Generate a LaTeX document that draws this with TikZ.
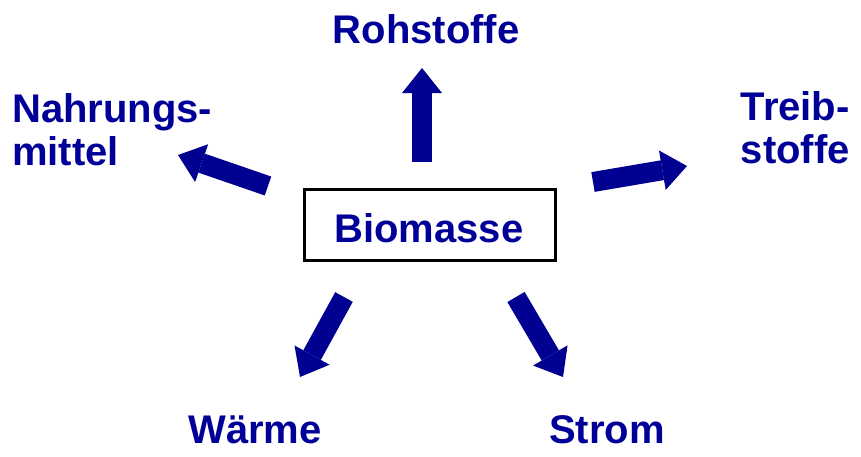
\documentclass[tikz,border=0pt]{standalone}
\usepackage{fontspec}
\setmainfont{Liberation Sans}
\usetikzlibrary{arrows.meta, positioning}
\usepackage{xcolor}
\definecolor{biomblue}{RGB}{0,0,153}
\definecolor{arrowblue}{RGB}{0,0,145}
\tikzset{
  lbl/.style     = {text=biomblue, font=\fontsize{30}{32.25}\selectfont\bfseries,
                    inner sep=0pt},
  mainbox/.style = {draw=black, line width=2.4pt, minimum width=188pt,
                    minimum height=53pt, inner sep=0pt},
  blockarr/.style = {-{Triangle[length=18.75pt, width=30pt, line width=0pt]},
                     line width=15pt, draw=arrowblue},
}

\begin{document}
\begin{tikzpicture}[x=0.75pt, y=-0.75pt]
  \useasboundingbox (0,0) rectangle (861,457);
  % box in the middle
  \node[mainbox] (biomasse) at (430,225) {};
  \node[lbl, anchor=base] (biotext) at (429,242) {Biomasse};
  % labels round it (base = last line)
  \node[lbl, anchor=base] (rohstoffe) at (426,43) {Rohstoffe};
  \node[lbl, anchor=base west, align=left] (nahrung) at (12,165) {Nahrungs-\\mittel};
  \node[lbl, anchor=base east, align=right] (treib) at (850,163) {Treib-\\stoffe};
  \node[lbl, anchor=base] (waerme) at (255,443) {Wärme};
  \node[lbl, anchor=base] (strom) at (607,443) {Strom};
  % arrow ends
  \foreach \nd/\x/\y in {tR/422/162, hR/422/68, tN/268/186, hN/178/155,
                         tT/593/182, hT/687/166, tW/344/297, hW/300/377,
                         tS/516/297, hS/563/377} {
    \coordinate (\nd) at (\x,\y);
  }
  \foreach \a/\b in {tR/hR, tN/hN, tT/hT, tW/hW, tS/hS} {
    \draw[blockarr] (\a) -- (\b);
  }
\end{tikzpicture}
\end{document}
